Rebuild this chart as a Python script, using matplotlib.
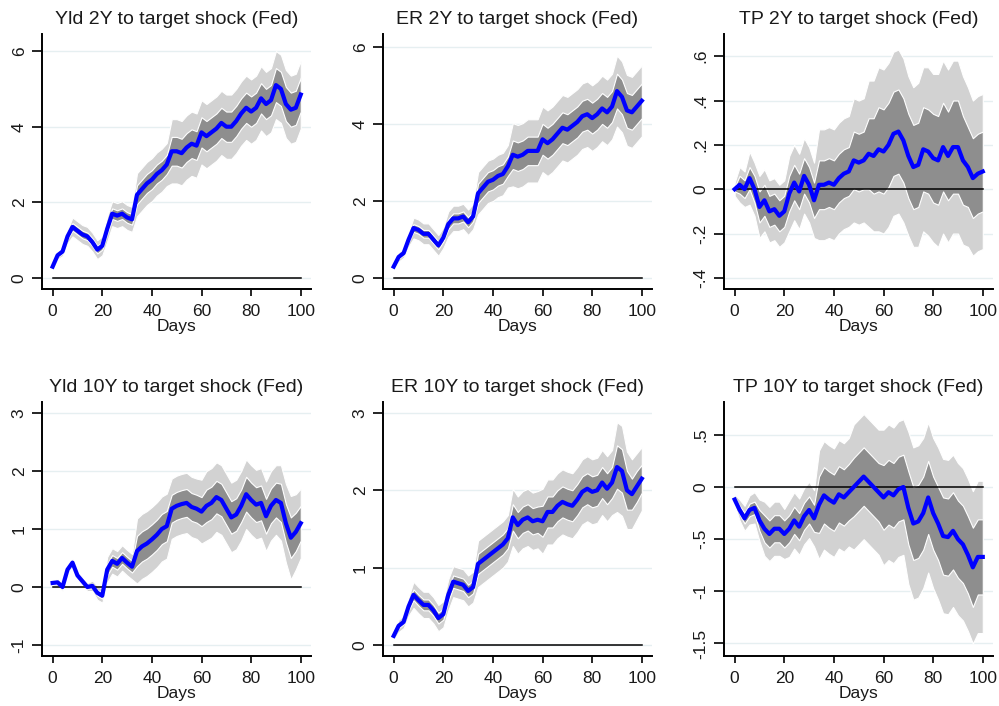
import matplotlib
matplotlib.use("Agg")
import matplotlib.pyplot as plt
import numpy as np

plt.rcParams['font.family'] = ['Liberation Sans', 'DejaVu Sans']

# days sampled every 2 days
days = np.arange(0, 101, 2)

# --- Yld 2Y ---
yld2 = [0.3, 0.6, 0.7, 1.1, 1.35, 1.25, 1.15, 1.1, 0.95, 0.75,
        0.85, 1.3, 1.7, 1.65, 1.7, 1.6, 1.55, 2.2, 2.35, 2.5,
        2.6, 2.75, 2.85, 3.0, 3.35, 3.35, 3.3, 3.45, 3.55, 3.5,
        3.85, 3.75, 3.85, 3.95, 4.1, 4.0, 4.0, 4.15, 4.35, 4.5,
        4.4, 4.5, 4.75, 4.6, 4.7, 5.1, 5.0, 4.6, 4.45, 4.5, 4.85]
yld2_in = [0.03, 0.05, 0.05, 0.07, 0.1, 0.1, 0.1, 0.1, 0.1, 0.1,
           0.1, 0.14, 0.14, 0.14, 0.14, 0.14, 0.14, 0.25, 0.25, 0.25,
           0.25, 0.25, 0.25, 0.25, 0.38, 0.38, 0.38, 0.38, 0.38, 0.38,
           0.4, 0.4, 0.4, 0.4, 0.4, 0.4, 0.4, 0.4, 0.4, 0.4,
           0.4, 0.4, 0.4, 0.4, 0.4, 0.45, 0.45, 0.45, 0.45, 0.45, 0.45]
yld2_out = [0.06, 0.1, 0.12, 0.18, 0.25, 0.25, 0.25, 0.25, 0.25, 0.25,
            0.25, 0.33, 0.33, 0.33, 0.33, 0.33, 0.33, 0.57, 0.57, 0.57,
            0.57, 0.57, 0.57, 0.57, 0.85, 0.85, 0.85, 0.85, 0.85, 0.85,
            0.85, 0.85, 0.85, 0.85, 0.85, 0.85, 0.85, 0.85, 0.85, 0.85,
            0.85, 0.85, 0.85, 0.85, 0.85, 0.9, 0.9, 0.9, 0.9, 0.9, 0.9]

# --- ER 2Y ---
er2 = [0.3, 0.55, 0.65, 1.0, 1.3, 1.25, 1.15, 1.15, 1.0, 0.85,
       1.05, 1.4, 1.55, 1.55, 1.6, 1.45, 1.6, 2.2, 2.35, 2.5,
       2.55, 2.65, 2.7, 2.9, 3.2, 3.15, 3.2, 3.3, 3.3, 3.3,
       3.6, 3.5, 3.6, 3.75, 3.9, 3.85, 3.95, 4.05, 4.2, 4.25,
       4.15, 4.25, 4.4, 4.3, 4.45, 4.85, 4.7, 4.35, 4.3, 4.45, 4.6]
er2_in = [0.03, 0.05, 0.05, 0.07, 0.1, 0.1, 0.1, 0.1, 0.1, 0.1,
          0.1, 0.13, 0.13, 0.13, 0.13, 0.13, 0.13, 0.25, 0.25, 0.25,
          0.25, 0.25, 0.25, 0.25, 0.37, 0.37, 0.37, 0.37, 0.37, 0.37,
          0.4, 0.4, 0.4, 0.4, 0.4, 0.4, 0.4, 0.4, 0.4, 0.4,
          0.4, 0.4, 0.4, 0.4, 0.4, 0.45, 0.45, 0.45, 0.45, 0.45, 0.45]
er2_out = [0.07, 0.12, 0.12, 0.18, 0.27, 0.27, 0.27, 0.27, 0.27, 0.27,
           0.27, 0.33, 0.33, 0.33, 0.33, 0.33, 0.33, 0.55, 0.55, 0.55,
           0.55, 0.55, 0.55, 0.55, 0.82, 0.82, 0.82, 0.82, 0.82, 0.82,
           0.85, 0.85, 0.85, 0.85, 0.85, 0.85, 0.85, 0.85, 0.85, 0.85,
           0.85, 0.85, 0.85, 0.85, 0.85, 0.92, 0.92, 0.92, 0.92, 0.92, 0.92]

# --- TP 2Y ---
tp2 = [0.0, 0.02, 0.0, 0.05, 0.0, -0.08, -0.05, -0.1, -0.09, -0.12,
       -0.1, -0.02, 0.03, -0.01, 0.06, 0.02, -0.05, 0.02, 0.02, 0.03,
       0.02, 0.05, 0.07, 0.08, 0.13, 0.12, 0.13, 0.16, 0.15, 0.18,
       0.17, 0.2, 0.25, 0.26, 0.22, 0.15, 0.1, 0.11, 0.18, 0.17,
       0.14, 0.13, 0.19, 0.15, 0.19, 0.19, 0.13, 0.1, 0.05, 0.07, 0.08]
tp2_in = [0.01, 0.04, 0.04, 0.05, 0.06, 0.07, 0.07, 0.07, 0.07, 0.07,
          0.07, 0.08, 0.08, 0.08, 0.08, 0.08, 0.08, 0.11, 0.11, 0.11,
          0.11, 0.11, 0.11, 0.11, 0.13, 0.13, 0.13, 0.16, 0.17, 0.19,
          0.19, 0.19, 0.19, 0.19, 0.19, 0.19, 0.19, 0.19, 0.19, 0.19,
          0.2, 0.2, 0.2, 0.2, 0.21, 0.21, 0.2, 0.18, 0.18, 0.18, 0.18]
tp2_out = [0.03, 0.08, 0.08, 0.12, 0.12, 0.14, 0.14, 0.14, 0.14, 0.14,
           0.14, 0.17, 0.17, 0.17, 0.17, 0.17, 0.17, 0.25, 0.25, 0.25,
           0.25, 0.25, 0.25, 0.25, 0.28, 0.28, 0.28, 0.33, 0.34, 0.37,
           0.37, 0.37, 0.37, 0.37, 0.37, 0.36, 0.36, 0.37, 0.37, 0.38,
           0.38, 0.39, 0.39, 0.39, 0.39, 0.39, 0.38, 0.36, 0.35, 0.35, 0.35]

# --- Yld 10Y ---
yld10 = [0.07, 0.08, 0.0, 0.3, 0.42, 0.2, 0.1, 0.0, 0.02, -0.1,
         -0.15, 0.3, 0.45, 0.4, 0.5, 0.42, 0.35, 0.62, 0.7, 0.75,
         0.82, 0.9, 1.0, 1.05, 1.35, 1.4, 1.43, 1.45, 1.38, 1.35,
         1.3, 1.4, 1.45, 1.55, 1.5, 1.35, 1.2, 1.25, 1.4, 1.6,
         1.5, 1.42, 1.45, 1.22, 1.4, 1.5, 1.45, 1.1, 0.85, 0.95, 1.1]
yld10_in = [0.02, 0.03, 0.03, 0.03, 0.03, 0.03, 0.03, 0.03, 0.04, 0.05,
            0.05, 0.1, 0.1, 0.1, 0.1, 0.1, 0.1, 0.26, 0.26, 0.26,
            0.26, 0.26, 0.26, 0.26, 0.24, 0.24, 0.24, 0.24, 0.24, 0.24,
            0.25, 0.28, 0.28, 0.28, 0.28, 0.28, 0.28, 0.28, 0.28, 0.3,
            0.3, 0.3, 0.3, 0.3, 0.3, 0.3, 0.33, 0.33, 0.35, 0.33, 0.3]
yld10_out = [0.04, 0.06, 0.07, 0.07, 0.07, 0.07, 0.07, 0.07, 0.09, 0.12,
             0.12, 0.22, 0.22, 0.22, 0.22, 0.22, 0.22, 0.56, 0.56, 0.56,
             0.56, 0.56, 0.56, 0.56, 0.52, 0.52, 0.52, 0.52, 0.52, 0.52,
             0.55, 0.6, 0.6, 0.6, 0.6, 0.6, 0.6, 0.6, 0.6, 0.6,
             0.6, 0.6, 0.6, 0.6, 0.6, 0.6, 0.65, 0.68, 0.72, 0.65, 0.6]

# --- ER 10Y ---
er10 = [0.12, 0.25, 0.3, 0.5, 0.65, 0.58, 0.52, 0.52, 0.45, 0.35,
        0.4, 0.65, 0.82, 0.8, 0.78, 0.7, 0.75, 1.05, 1.1, 1.15,
        1.2, 1.25, 1.3, 1.38, 1.65, 1.55, 1.62, 1.65, 1.6, 1.62,
        1.6, 1.72, 1.72, 1.8, 1.85, 1.82, 1.8, 1.88, 1.98, 2.02,
        1.98, 2.0, 2.1, 2.02, 2.1, 2.3, 2.25, 2.0, 1.95, 2.05, 2.15]
er10_in = [0.02, 0.03, 0.03, 0.05, 0.07, 0.07, 0.07, 0.07, 0.07, 0.07,
           0.07, 0.08, 0.08, 0.08, 0.08, 0.08, 0.08, 0.13, 0.13, 0.13,
           0.13, 0.13, 0.13, 0.13, 0.17, 0.17, 0.17, 0.17, 0.17, 0.17,
           0.2, 0.2, 0.2, 0.2, 0.2, 0.2, 0.2, 0.2, 0.2, 0.2,
           0.2, 0.2, 0.2, 0.2, 0.2, 0.28, 0.28, 0.25, 0.2, 0.2, 0.18]
er10_out = [0.05, 0.08, 0.08, 0.12, 0.17, 0.17, 0.17, 0.17, 0.17, 0.17,
            0.17, 0.2, 0.2, 0.2, 0.2, 0.2, 0.2, 0.3, 0.3, 0.3,
            0.3, 0.3, 0.3, 0.3, 0.37, 0.37, 0.37, 0.37, 0.37, 0.37,
            0.42, 0.42, 0.42, 0.42, 0.42, 0.42, 0.42, 0.42, 0.42, 0.42,
            0.42, 0.42, 0.42, 0.42, 0.42, 0.58, 0.58, 0.5, 0.45, 0.43, 0.41]

# --- TP 10Y ---
tp10 = [-0.12, -0.22, -0.3, -0.22, -0.2, -0.32, -0.4, -0.45, -0.4, -0.4,
        -0.45, -0.4, -0.32, -0.38, -0.28, -0.22, -0.3, -0.17, -0.08, -0.12,
        -0.15, -0.07, -0.1, -0.05, 0.0, 0.05, 0.1, 0.05, 0.0, -0.05,
        -0.1, -0.05, -0.08, -0.02, 0.0, -0.2, -0.35, -0.33, -0.25, -0.1,
        -0.25, -0.35, -0.47, -0.48, -0.42, -0.5, -0.55, -0.65, -0.77, -0.67, -0.67]
tp10_in = [0.02, 0.04, 0.05, 0.06, 0.06, 0.1, 0.13, 0.13, 0.13, 0.13,
           0.13, 0.13, 0.13, 0.13, 0.13, 0.13, 0.13, 0.27, 0.27, 0.27,
           0.27, 0.27, 0.27, 0.27, 0.28, 0.28, 0.28, 0.28, 0.28, 0.28,
           0.31, 0.31, 0.31, 0.31, 0.31, 0.35, 0.35, 0.35, 0.35, 0.35,
           0.35, 0.35, 0.37, 0.37, 0.37, 0.37, 0.37, 0.37, 0.38, 0.36, 0.36]
tp10_out = [0.05, 0.1, 0.12, 0.14, 0.15, 0.2, 0.26, 0.26, 0.26, 0.26,
            0.24, 0.27, 0.27, 0.27, 0.27, 0.27, 0.27, 0.52, 0.52, 0.52,
            0.52, 0.52, 0.52, 0.52, 0.6, 0.6, 0.6, 0.6, 0.6, 0.6,
            0.65, 0.65, 0.65, 0.65, 0.65, 0.73, 0.73, 0.73, 0.72, 0.72,
            0.72, 0.73, 0.74, 0.74, 0.73, 0.73, 0.73, 0.73, 0.73, 0.73, 0.73]

titles = ["Yld 2Y to target shock (Fed)", "ER 2Y to target shock (Fed)",
          "TP 2Y to target shock (Fed)", "Yld 10Y to target shock (Fed)",
          "ER 10Y to target shock (Fed)", "TP 10Y to target shock (Fed)"]
centers = [yld2, er2, tp2, yld10, er10, tp10]
inners = [yld2_in, er2_in, tp2_in, yld10_in, er10_in, tp10_in]
outers = [yld2_out, er2_out, tp2_out, yld10_out, er10_out, tp10_out]

yticks = [[0, 2, 4, 6], [0, 2, 4, 6], [-0.4, -0.2, 0, 0.2, 0.4, 0.6],
          [-1, 0, 1, 2, 3], [0, 1, 2, 3], [-1.5, -1, -0.5, 0, 0.5]]
ylabels = [["0", "2", "4", "6"], ["0", "2", "4", "6"],
           ["-.4", "-.2", "0", ".2", ".4", ".6"],
           ["-1", "0", "1", "2", "3"], ["0", "1", "2", "3"],
           ["-1.5", "-1", "-.5", "0", ".5"]]
ylims = [(-0.29, 6.45), (-0.28, 6.33), (-0.45, 0.70),
         (-1.19, 3.19), (-0.14, 3.14), (-1.62, 0.815)]

# panel positions (left, bottom, width, height) in figure fractions
lefts = [0.042, 0.3834, 0.7247]
width = 0.269
rows = [(0.5907, 0.3611), (0.0708, 0.3598)]

fig = plt.figure(figsize=(9.99, 7.06), dpi=100)

for i in range(6):
    r, c = divmod(i, 3)
    ax = fig.add_axes([lefts[c], rows[r][0], width, rows[r][1]])
    ctr = np.array(centers[i])
    w_in = np.array(inners[i])
    w_out = np.array(outers[i])

    for t in yticks[i]:
        ax.axhline(t, color='#e6eff1', lw=1.0, zorder=0)

    ax.fill_between(days, ctr - w_out, ctr + w_out, facecolor='#d2d2d2',
                    edgecolor='white', linewidth=0.8, zorder=1)
    ax.fill_between(days, ctr - w_in, ctr + w_in, facecolor='#8e8e8e',
                    edgecolor='white', linewidth=0.8, zorder=2)
    ax.plot([0, 100], [0, 0], color='black', lw=1.1, zorder=3)
    ax.plot(days, ctr, color='#0000ff', lw=3.0, zorder=4)

    ax.set_xlim(-4.3, 104)
    ax.set_ylim(*ylims[i])
    ax.set_xticks([0, 20, 40, 60, 80, 100])
    ax.set_yticks(yticks[i])
    ax.set_yticklabels(ylabels[i], rotation=90, va='center')
    ax.tick_params(axis='x', length=5, width=1.2, pad=6, labelsize=12.5,
                   labelcolor='#1a1a1a')
    ax.tick_params(axis='y', length=7, width=1.2, pad=4, labelsize=12.5,
                   labelcolor='#1a1a1a')
    for s in ['top', 'right']:
        ax.spines[s].set_visible(False)
    for s in ['left', 'bottom']:
        ax.spines[s].set_linewidth(1.4)
    ax.set_title(titles[i], fontsize=14, color='#1a1a1a', pad=7)
    ax.set_xlabel("Days", fontsize=12.5, labelpad=0, color='#1a1a1a')

fig.savefig("out.png", dpi=100)
